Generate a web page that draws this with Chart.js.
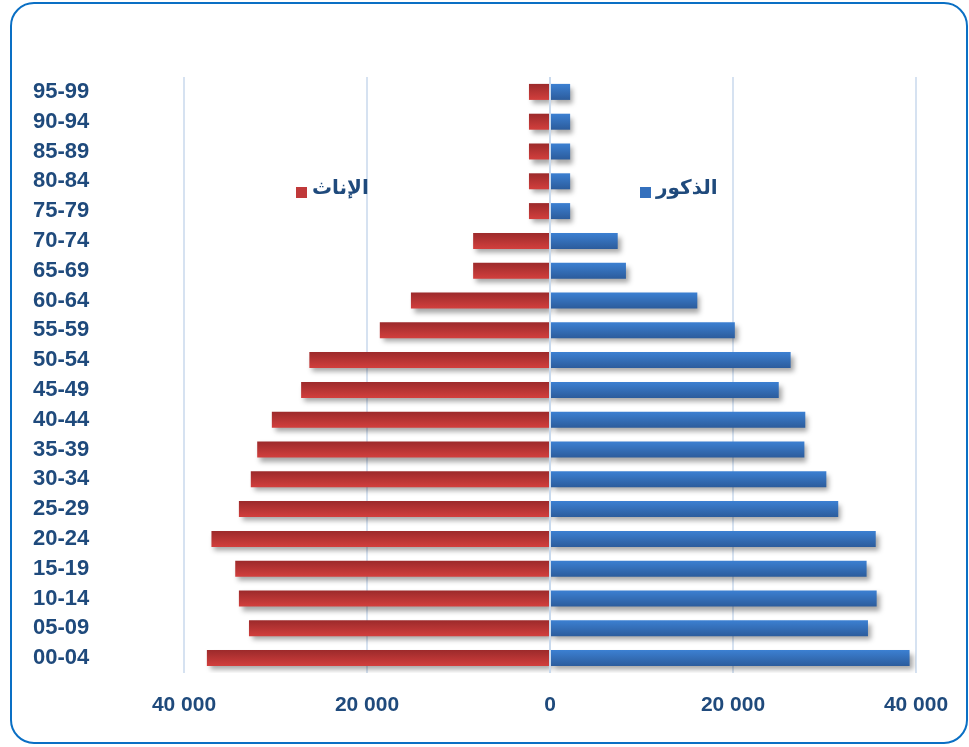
<!DOCTYPE html>
<html>
<head>
<meta charset="utf-8">
<script src="https://cdn.jsdelivr.net/npm/chart.js@4"></script>
<style>
  html, body { margin: 0; padding: 0; background: #fff; }
  #wrap { position: relative; width: 969px; height: 747px; overflow: hidden; }
  #frame {
    position: absolute; left: 10px; top: 2px; width: 954px; height: 738px;
    border: 2px solid #0A6FC4; border-radius: 24px;
  }
  #chart { position: absolute; left: 0; top: 0; }
</style>
</head>
<body>
<div id="wrap">
  <div id="frame"></div>
  <canvas id="chart" width="969" height="747"></canvas>
</div>
<script>
// age groups, youngest first (drawn bottom-up)
const ageGroups = ['00-04', '05-09', '10-14', '15-19', '20-24', '25-29', '30-34', '35-39', '40-44', '45-49',
  '50-54', '55-59', '60-64', '65-69', '70-74', '75-79', '80-84', '85-89', '90-94', '95-99'];
const males = [39300, 34750, 35700, 34600, 35600, 31500, 30200, 27800, 27900, 25000,
  26300, 20200, 16100, 8300, 7400, 2200, 2200, 2200, 2200, 2200];
const females = [37500, 32900, 34000, 34400, 37000, 34000, 32700, 32000, 30400, 27200,
  26300, 18600, 15200, 8400, 8400, 2300, 2300, 2300, 2300, 2300];
const xTicks = [-40000, -20000, 0, 20000, 40000];

const labelMale = 'الذكور';
const labelFemale = 'الإناث';

const textColor = '#1F4A7C';
const gridColor = '#D6E2F1';
const barThickness = 16;

function barGradient(ctx, top, bottom) {
  const chart = ctx.chart;
  const y = chart.scales && chart.scales.y;
  if (!y) return bottom;
  const cy = y.getPixelForValue(ctx.dataIndex);
  if (cy == null || isNaN(cy)) return bottom;
  const g = chart.ctx.createLinearGradient(0, cy - barThickness / 2, 0, cy + barThickness / 2);
  g.addColorStop(0, top);
  g.addColorStop(1, bottom);
  return g;
}

function fmt(v) {
  return Math.abs(v).toString().replace(/\B(?=(\d{3})+(?!\d))/g, ' ');
}

// soft drop shadow under the bars, like the office chart
const shadowPlugin = {
  id: 'shadow',
  beforeDatasetsDraw(chart) {
    const c = chart.ctx;
    c.save();
    c.shadowColor = 'rgba(0,0,0,0.35)';
    c.shadowBlur = 5;
    c.shadowOffsetX = 3;
    c.shadowOffsetY = 4;
  },
  afterDatasetsDraw(chart) {
    chart.ctx.restore();
    // vertical axis line at zero, drawn on top of bars
    const c = chart.ctx;
    const x0 = chart.scales.x.getPixelForValue(0);
    c.save();
    c.strokeStyle = '#C9DAEE';
    c.lineWidth = 2;
    c.beginPath();
    c.moveTo(x0, chart.chartArea.top);
    c.lineTo(x0, chart.chartArea.bottom);
    c.stroke();
    c.restore();
  }
};

// legend floating inside the plot
const legendPlugin = {
  id: 'floatLegend',
  afterDraw(chart) {
    const c = chart.ctx;
    const items = [
      { text: labelFemale, color: '#C0393A', x: 296, y: 192 },
      { text: labelMale, color: '#3470BD', x: 640, y: 192 }
    ];
    c.save();
    c.font = 'bold 20px "DejaVu Sans"';
    c.textBaseline = 'middle';
    c.textAlign = 'left';
    items.forEach(it => {
      c.fillStyle = it.color;
      c.fillRect(it.x, it.y - 5, 11, 11);
      c.fillStyle = textColor;
      c.fillText(it.text, it.x + 16, it.y - 3);
    });
    c.restore();
  }
};

new Chart(document.getElementById('chart'), {
  type: 'bar',
  data: {
    labels: ageGroups,
    datasets: [
      {
        label: labelMale,
        data: males,
        backgroundColor: ctx => barGradient(ctx, '#3C80D2', '#2C5C9C'),
        barPercentage: 0.537,
        categoryPercentage: 1
      },
      {
        label: labelFemale,
        data: females.map(v => -v),
        backgroundColor: ctx => barGradient(ctx, '#9C2A2B', '#D23F3D'),
        barPercentage: 0.537,
        categoryPercentage: 1
      }
    ]
  },
  options: {
    indexAxis: 'y',
    responsive: false,
    animation: false,
    layout: { padding: { top: 77, right: 53, left: 33, bottom: 0 } },
    plugins: {
      legend: { display: false },
      tooltip: { enabled: false }
    },
    scales: {
      x: {
        stacked: true,
        min: -40000,
        max: 40000,
        afterBuildTicks(scale) {
          scale.ticks = xTicks.map(v => ({ value: v }));
        },
        afterFit(scale) { scale.height = 74; },
        border: { display: false },
        grid: { color: gridColor, lineWidth: 2, drawTicks: false },
        ticks: {
          padding: 20,
          color: textColor,
          font: { family: 'Liberation Sans', weight: 'bold', size: 21 },
          callback: v => fmt(v)
        }
      },
      y: {
        stacked: true,
        reverse: true,
        afterFit(scale) {
          scale.width = 151;
          scale.paddingTop = 0;
          scale.paddingBottom = 0;
        },
        border: { display: false },
        grid: { display: false, drawTicks: false },
        ticks: {
          padding: 0,
          crossAlign: 'far',
          color: textColor,
          font: { family: 'Liberation Sans', weight: 'bold', size: 22 }
        }
      }
    }
  },
  plugins: [shadowPlugin, legendPlugin]
});
</script>
</body>
</html>
